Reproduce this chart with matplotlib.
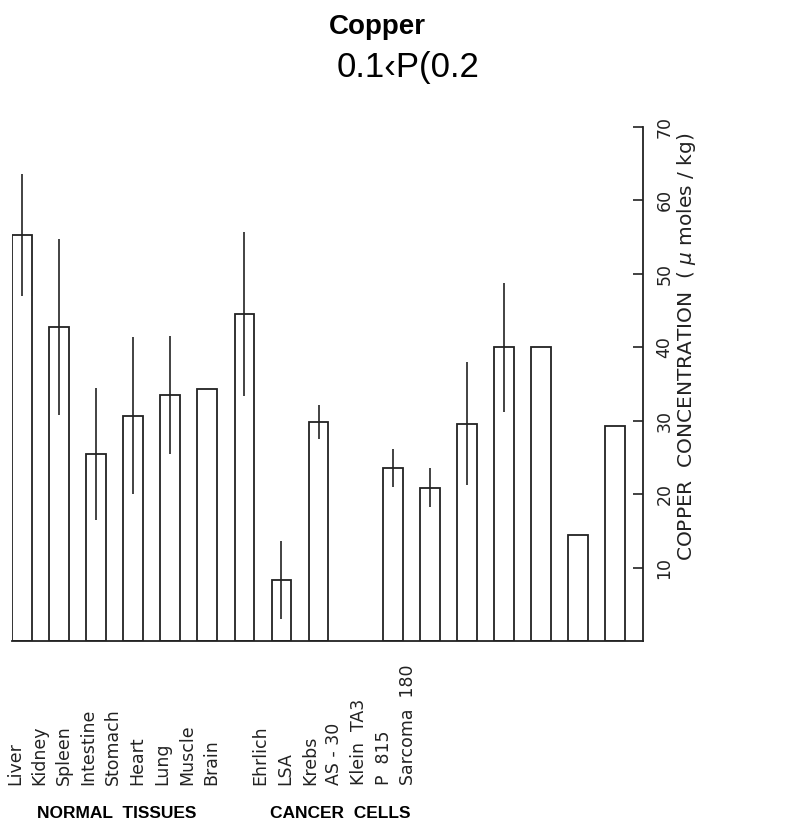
import matplotlib
matplotlib.use("Agg")
import matplotlib.pyplot as plt
import matplotlib.transforms as mtransforms

# ==== データ ====
tissues = ["Liver", "Kidney", "Spleen", "Intestine", "Stomach", "Heart", "Lung", "Muscle", "Brain"]
tissue_vals = [55.3, 42.8, 25.5, 30.7, 33.5, 34.3, 44.5, 8.3, 29.8]
tissue_err = [8.3, 12.0, 9.0, 10.7, 8.0, 0.0, 11.2, 5.3, 2.3]

cancers = ["Ehrlich", "LSA", "Krebs", "AS - 30", "Klein  TA3", "P  815", "Sarcoma  180"]
cancer_vals = [23.6, 20.9, 29.6, 40.0, 40.0, 14.4, 29.3]
cancer_err = [2.6, 2.6, 8.4, 8.8, 0.0, 0.0, 0.0]

yticks = [10, 20, 30, 40, 50, 60, 70]

# 位置 (2群の間に2本分の空き)
x_t = list(range(len(tissues)))
x_c = [len(tissues) + 1 + i for i in range(len(cancers))]
xs = x_t + x_c
vals = tissue_vals + cancer_vals
errs = tissue_err + cancer_err
names = tissues + cancers

INK = "#222222"

fig = plt.figure(figsize=(7.86, 8.27), dpi=100)
ax = fig.add_axes([12/786, 1 - 641/827, (643 - 12)/786, (641 - 127)/827])

W = 0.53
ax.bar(xs, vals, width=W, color="white", edgecolor=INK, linewidth=1.3, zorder=2)
ex = [x for x, e in zip(xs, errs) if e > 0]
ey = [v for v, e in zip(vals, errs) if e > 0]
ee = [e for e in errs if e > 0]
ax.errorbar(ex, ey, yerr=ee, fmt="none", ecolor=INK, elinewidth=1.2, capsize=0, zorder=3)

ax.set_xlim(-W/2, xs[-1] + 0.75)
ax.set_ylim(0, 70)

for s in ["left", "top"]:
    ax.spines[s].set_visible(False)
for s in ["right", "bottom"]:
    ax.spines[s].set_linewidth(1.3)
    ax.spines[s].set_color(INK)

ax.set_xticks([])
ax.yaxis.tick_right()
ax.set_yticks(yticks)
ax.set_yticklabels([str(t) for t in yticks], rotation=90, va="center", ha="left",
                   fontsize=12.5, family="DejaVu Sans", color=INK)
ax.tick_params(axis="y", direction="in", length=7, width=1.2, pad=9, color=INK)

ax.yaxis.set_label_position("right")
ax.set_ylabel("COPPER  CONCENTRATION  ( $\\mu$ moles / kg)", rotation=90,
              fontsize=14.5, family="DejaVu Sans", color=INK)
ax.yaxis.set_label_coords(1.05, 0.572)

# カテゴリ名 (バーとは別の間隔で並ぶ)
trans = mtransforms.blended_transform_factory(ax.transData, ax.transAxes)
for x, name in zip(xs, names):
    lx = x * 0.663 - 0.19
    ax.text(lx, -0.280, name, rotation=90, ha="center", va="bottom", fontsize=12.5,
            family="DejaVu Sans", color=INK, transform=trans)

fig.text(117/786, 1 - 813/827, "NORMAL  TISSUES", ha="center", va="center",
         fontsize=12.5, fontweight="bold", family="Liberation Sans")
fig.text(340/786, 1 - 813/827, "CANCER  CELLS", ha="center", va="center",
         fontsize=12.5, fontweight="bold", family="Liberation Sans")

fig.text(377/786, 1 - 27/827, "Copper", ha="center", va="center",
         fontsize=20, fontweight="bold", family="Liberation Sans")
fig.text(408/786, 1 - 67/827, "0.1\u2039P(0.2", ha="center", va="center",
         fontsize=25, family="Liberation Sans")

fig.savefig("out.png", dpi=100)
